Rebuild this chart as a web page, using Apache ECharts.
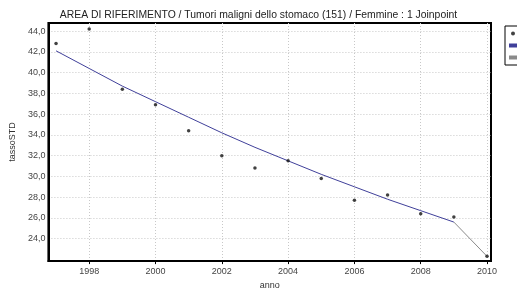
<!DOCTYPE html>
<html>
<head>
<meta charset="utf-8">
<script src="https://cdn.jsdelivr.net/npm/echarts@6/dist/echarts.min.js"></script>
<style>
  html, body { margin: 0; padding: 0; background: #fff; }
  #chart { width: 517px; height: 295px; }
</style>
</head>
<body>
<div id="chart"></div>
<script>
// anni osservati
const anni = [1997, 1998, 1999, 2000, 2001, 2002, 2003, 2004, 2005, 2006, 2007, 2008, 2009, 2010];
// tasso standardizzato osservato
const osservati = [42.8, 44.2, 38.4, 36.9, 34.4, 32.0, 30.8, 31.5, 29.8, 27.7, 28.2, 26.4, 26.1, 22.3];
// modello joinpoint, primo segmento (1997-2009)
const modello = [42.1, 40.4, 38.7, 37.2, 35.7, 34.2, 32.8, 31.5, 30.2, 29.0, 27.8, 26.7, 25.6];
// secondo segmento (2009-2010)
const anniSeg2 = [2009, 2010];
const modelloSeg2 = [25.6, 22.3];
const xTicks = [1998, 2000, 2002, 2004, 2006, 2008, 2010];
const yTicks = [24, 26, 28, 30, 32, 34, 36, 38, 40, 42, 44];

const chart = echarts.init(document.getElementById('chart'));
const font = 'Liberation Sans, Arial, sans-serif';

chart.setOption({
  animation: false,
  backgroundColor: '#fff',
  title: {
    text: 'AREA DI RIFERIMENTO / Tumori maligni dello stomaco (151) / Femmine : 1 Joinpoint',
    left: 'center',
    top: 5,
    textStyle: { fontSize: 10.4, fontWeight: 'normal', color: '#222', fontFamily: font }
  },
  legend: {
    orient: 'vertical',
    left: 505,
    top: 26,
    padding: [3, 4],
    itemGap: 3,
    itemWidth: 8,
    itemHeight: 4,
    borderColor: '#000',
    borderWidth: 1,
    textStyle: { fontSize: 9, fontFamily: font },
    data: [
      { name: 'Osservati', icon: 'circle' },
      { name: 'Modellati', icon: 'rect' },
      { name: 'Segmento', icon: 'rect' }
    ]
  },
  grid: {
    left: 43, right: 26, top: 23, bottom: 28,
    show: true, borderColor: '#000', borderWidth: 2
  },
  xAxis: {
    type: 'value',
    min: 1996.77,
    max: 2010.12,
    name: 'anno',
    nameLocation: 'middle',
    nameGap: 19,
    nameTextStyle: { fontSize: 9, color: '#333', fontFamily: font },
    axisLine: { show: true, lineStyle: { color: '#000', width: 2 } },
    axisTick: { show: true, customValues: xTicks, length: 3, lineStyle: { color: '#000' } },
    axisLabel: {
      customValues: xTicks,
      fontSize: 9, color: '#444', fontFamily: font, margin: 6,
      formatter: v => String(v)
    },
    splitLine: { show: true, lineStyle: { color: '#c8c8c8', type: [1, 2], width: 1 } }
  },
  yAxis: {
    type: 'value',
    min: 21.84,
    max: 44.78,
    name: 'tassoSTD',
    nameLocation: 'middle',
    nameGap: 30,
    nameTextStyle: { fontSize: 9, color: '#333', fontFamily: font },
    axisLine: { show: true, lineStyle: { color: '#000', width: 2 } },
    axisTick: { show: false, customValues: yTicks },
    axisLabel: {
      customValues: yTicks,
      fontSize: 9, color: '#444', fontFamily: font, margin: 3,
      formatter: v => v.toFixed(1).replace('.', ',')
    },
    splitLine: { show: true, lineStyle: { color: '#c8c8c8', type: [1, 2], width: 1 } }
  },
  series: [
    {
      name: 'Modellati',
      type: 'line',
      data: modello.map((v, i) => [anni[i], v]),
      showSymbol: false,
      symbol: 'none',
      lineStyle: { color: '#40409a', width: 1 },
      itemStyle: { color: '#40409a' },
      z: 2
    },
    {
      name: 'Segmento',
      type: 'line',
      data: modelloSeg2.map((v, i) => [anniSeg2[i], v]),
      symbol: 'none',
      lineStyle: { color: '#8a8a8a', width: 1 },
      itemStyle: { color: '#8a8a8a' },
      z: 2
    },
    {
      name: 'Osservati',
      type: 'scatter',
      data: osservati.map((v, i) => [anni[i], v]),
      symbolSize: 3.5,
      itemStyle: { color: '#111' },
      z: 3
    }
  ]
});
</script>
</body>
</html>
